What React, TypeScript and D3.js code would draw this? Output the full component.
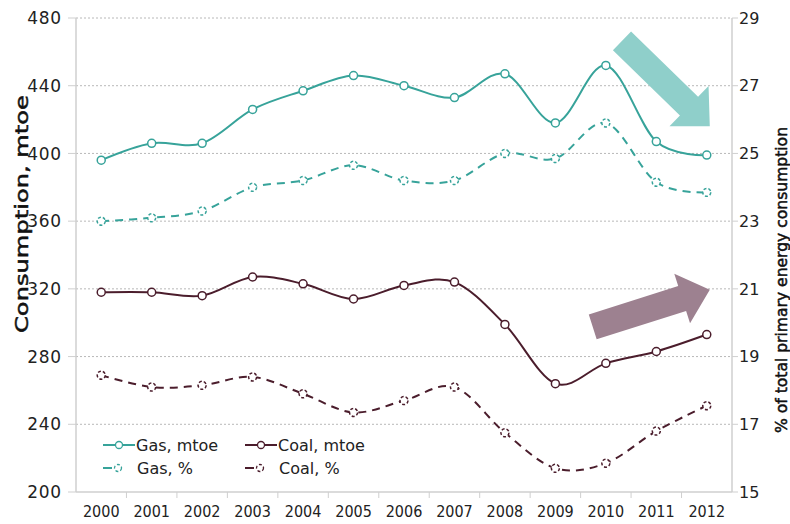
import React, { useEffect, useRef } from 'react';
import * as d3 from 'd3';

// years on the x axis
const years = [2000, 2001, 2002, 2003, 2004, 2005, 2006, 2007, 2008, 2009, 2010, 2011, 2012];

// consumption, mtoe (left axis)
const gasMtoe = [396, 406, 406, 426, 437, 446, 440, 433, 447, 418, 452, 407, 399];
const coalMtoe = [318, 318, 316, 327, 323, 314, 322, 324, 299, 264, 276, 283, 293];

// share of total primary energy consumption, % (right axis)
const gasPct = [23.0, 23.1, 23.3, 24.0, 24.2, 24.65, 24.2, 24.2, 25.0, 24.85, 25.9, 24.15, 23.85];
const coalPct = [18.45, 18.1, 18.15, 18.4, 17.9, 17.35, 17.7, 18.1, 16.75, 15.7, 15.85, 16.8, 17.55];

const leftTicks = [200, 240, 280, 320, 360, 400, 440, 480];
const rightTicks = [15, 17, 19, 21, 23, 25, 27, 29];

// trend arrows: [year, mtoe] from tail to tip
const gasArrow = [[2010.32, 466.5], [2012.06, 416]];
const coalArrow = [[2009.74, 297.5], [2012.06, 319.5]];

const GAS = '#37a39a';
const COAL = '#4b1d2c';

const App: React.FC = () => {
    const svgRef = useRef<SVGSVGElement>(null);

    useEffect(() => {
        if (!svgRef.current) return;
        const svg = d3.select(svgRef.current);
        svg.selectAll('*').remove();

        const width = 790;
        const height = 524;
        const margin = { left: 76, right: 58, top: 18, bottom: 32 };
        const font = '"DejaVu Sans", sans-serif';
        const condensed = '"DejaVu Sans Condensed", "DejaVu Sans", sans-serif';

        const x = d3.scalePoint<number>()
            .domain(years)
            .range([margin.left, width - margin.right])
            .padding(0.5);
        const xYear = d3.scaleLinear()
            .domain([2000, 2012])
            .range([x(2000)!, x(2012)!]);
        const yLeft = d3.scaleLinear().domain([200, 480]).range([height - margin.bottom, margin.top]);
        const yRight = d3.scaleLinear().domain([15, 29]).range([height - margin.bottom, margin.top]);

        const x0 = margin.left;
        const x1 = width - margin.right;
        const yBottom = height - margin.bottom;

        // gridlines
        svg.append('g')
            .selectAll('line')
            .data(leftTicks.filter(t => t > 200))
            .join('line')
            .attr('x1', x0)
            .attr('x2', x1)
            .attr('y1', d => yLeft(d))
            .attr('y2', d => yLeft(d))
            .attr('stroke', '#b8b8b8')
            .attr('stroke-width', 1)
            .attr('stroke-dasharray', '2,2');

        // arrows (behind the lines)
        const drawArrow = (pts: number[][], color: string, shaft: number, headW: number, headL: number) => {
            const [tx, ty] = [xYear(pts[0][0]), yLeft(pts[0][1])];
            const [hx, hy] = [xYear(pts[1][0]), yLeft(pts[1][1])];
            const len = Math.hypot(hx - tx, hy - ty);
            const ux = (hx - tx) / len;
            const uy = (hy - ty) / len;
            const nx = -uy;
            const ny = ux;
            const bx = hx - ux * headL;
            const by = hy - uy * headL;
            const p = [
                [tx + nx * shaft / 2, ty + ny * shaft / 2],
                [bx + nx * shaft / 2, by + ny * shaft / 2],
                [bx + nx * headW / 2, by + ny * headW / 2],
                [hx, hy],
                [bx - nx * headW / 2, by - ny * headW / 2],
                [bx - nx * shaft / 2, by - ny * shaft / 2],
                [tx - nx * shaft / 2, ty - ny * shaft / 2],
            ];
            svg.append('polygon')
                .attr('points', p.map(q => q.join(',')).join(' '))
                .attr('fill', color);
        };
        drawArrow(gasArrow, '#8fcfca', 26, 56, 29);
        drawArrow(coalArrow, '#9d8190', 26, 52, 29);

        // axes lines
        const axisColor = '#cfcfcf';
        svg.append('line')
            .attr('x1', x0).attr('x2', x0).attr('y1', margin.top).attr('y2', yBottom)
            .attr('stroke', axisColor).attr('stroke-width', 1.5);
        svg.append('line')
            .attr('x1', x1).attr('x2', x1).attr('y1', margin.top).attr('y2', yBottom)
            .attr('stroke', axisColor).attr('stroke-width', 1.5);
        svg.append('line')
            .attr('x1', x0).attr('x2', x1).attr('y1', yBottom).attr('y2', yBottom)
            .attr('stroke', axisColor).attr('stroke-width', 1.5);

        // left ticks
        const gl = svg.append('g');
        gl.selectAll('line')
            .data(leftTicks)
            .join('line')
            .attr('x1', x0 - 8).attr('x2', x0)
            .attr('y1', d => yLeft(d)).attr('y2', d => yLeft(d))
            .attr('stroke', axisColor).attr('stroke-width', 1);
        gl.selectAll('text')
            .data(leftTicks)
            .join('text')
            .attr('x', x0 - 14)
            .attr('y', d => yLeft(d))
            .attr('dy', '0.36em')
            .attr('text-anchor', 'end')
            .attr('font-family', font)
            .attr('font-size', '17px')
            .attr('letter-spacing', '0.8px')
            .attr('fill', '#222')
            .text(d => d);

        // right ticks
        const gr = svg.append('g');
        gr.selectAll('line')
            .data(rightTicks)
            .join('line')
            .attr('x1', x1).attr('x2', x1 + 6)
            .attr('y1', d => yRight(d)).attr('y2', d => yRight(d))
            .attr('stroke', axisColor).attr('stroke-width', 1);
        gr.selectAll('text')
            .data(rightTicks)
            .join('text')
            .attr('x', x1 + 7)
            .attr('y', d => yRight(d))
            .attr('dy', '0.36em')
            .attr('font-family', font)
            .attr('font-size', '16px')
            .attr('fill', '#222')
            .text(d => d);

        // x ticks between categories and year labels
        const step = x.step();
        const gx = svg.append('g');
        gx.selectAll('line')
            .data(years.slice(1))
            .join('line')
            .attr('x1', d => x(d)! - step / 2).attr('x2', d => x(d)! - step / 2)
            .attr('y1', yBottom).attr('y2', yBottom + 6)
            .attr('stroke', axisColor).attr('stroke-width', 1);
        gx.selectAll('text')
            .data(years)
            .join('text')
            .attr('x', d => x(d)!)
            .attr('y', yBottom + 25)
            .attr('text-anchor', 'middle')
            .attr('font-family', condensed)
            .attr('font-size', '16px')
            .attr('fill', '#222')
            .text(d => d);

        // axis titles
        svg.append('text')
            .attr('transform', `translate(22, 214) rotate(-90)`)
            .attr('x', -119)
            .attr('dy', '0.35em')
            .attr('font-family', font)
            .attr('font-size', '17px')
            .attr('fill', '#111')
            .attr('stroke', '#111')
            .attr('stroke-width', 0.5)
            .attr('textLength', 238)
            .attr('lengthAdjust', 'spacingAndGlyphs')
            .text('Consumption, mtoe');
        svg.append('text')
            .attr('transform', `translate(781, 280) rotate(-90)`)
            .attr('x', -153)
            .attr('dy', '0.35em')
            .attr('font-family', font)
            .attr('font-size', '16px')
            .attr('fill', '#111')
            .attr('stroke', '#111')
            .attr('stroke-width', 0.5)
            .attr('textLength', 306)
            .attr('lengthAdjust', 'spacingAndGlyphs')
            .text('% of total primary energy consumption');

        // series
        const series = [
            { values: gasMtoe, y: yLeft, color: GAS, dashed: false },
            { values: gasPct, y: yRight, color: GAS, dashed: true },
            { values: coalMtoe, y: yLeft, color: COAL, dashed: false },
            { values: coalPct, y: yRight, color: COAL, dashed: true },
        ];

        series.forEach(s => {
            const line = d3.line<number>()
                .x((_, i) => x(years[i])!)
                .y(d => s.y(d))
                .curve(d3.curveCardinal.tension(0));
            svg.append('path')
                .attr('d', line(s.values))
                .attr('fill', 'none')
                .attr('stroke', s.color)
                .attr('stroke-width', 2)
                .attr('stroke-dasharray', s.dashed ? '8,6' : null);
            svg.append('g')
                .selectAll('circle')
                .data(s.values)
                .join('circle')
                .attr('cx', (_, i) => x(years[i])!)
                .attr('cy', d => s.y(d))
                .attr('r', 4)
                .attr('fill', 'white')
                .attr('stroke', s.color)
                .attr('stroke-width', 1.5)
                .attr('stroke-dasharray', s.dashed ? '3,2' : null);
        });

        // legend
        const legend = [
            { label: 'Gas, mtoe', color: GAS, dashed: false, lx: 103, ly: 445 },
            { label: 'Coal, mtoe', color: COAL, dashed: false, lx: 245, ly: 445 },
            { label: 'Gas, %', color: GAS, dashed: true, lx: 103, ly: 468 },
            { label: 'Coal, %', color: COAL, dashed: true, lx: 245, ly: 468 },
        ];
        legend.forEach(l => {
            svg.append('line')
                .attr('x1', l.lx).attr('x2', l.dashed ? l.lx + 9 : l.lx + 32)
                .attr('y1', l.ly).attr('y2', l.ly)
                .attr('stroke', l.color).attr('stroke-width', 2);
            svg.append('circle')
                .attr('cx', l.lx + (l.dashed ? 15 : 16))
                .attr('cy', l.ly)
                .attr('r', 3.5)
                .attr('fill', 'white')
                .attr('stroke', l.color)
                .attr('stroke-width', 1.3)
                .attr('stroke-dasharray', l.dashed ? '3,2' : null);
            svg.append('text')
                .attr('x', l.lx + (l.dashed ? 34 : 33))
                .attr('y', l.ly)
                .attr('dy', '0.36em')
                .attr('font-family', font)
                .attr('font-size', '16px')
                .attr('fill', '#222')
                .text(l.label);
        });
    }, []);

    return (
        <svg ref={svgRef} width="790" height="524"
            style={{ position: 'absolute', left: 0, top: 0, background: 'white' }}></svg>
    );
};

export default App;
